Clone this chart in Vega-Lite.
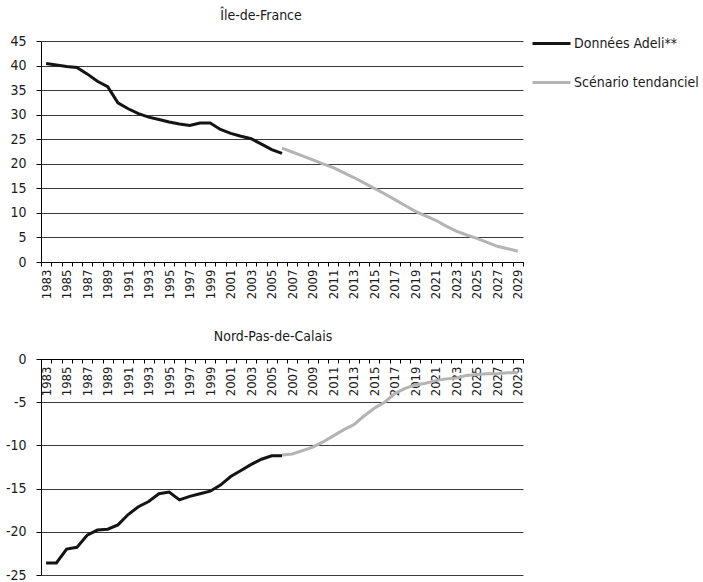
{
  "$schema": "https://vega.github.io/schema/vega-lite/v6.json",
  "background": "white",
  "padding": {"left": 5, "top": 9, "right": 5, "bottom": 5},
  "spacing": 31,
  "config": {
    "font": "'DejaVu Sans Condensed', 'Liberation Sans', sans-serif",
    "view": {"stroke": null},
    "axis": {"labelFont": "'DejaVu Sans Condensed', 'Liberation Sans', sans-serif", "labelColor": "#1a1a1a", "domainColor": "#000", "tickColor": "#000", "gridColor": "#3a3a3a", "gridWidth": 1},
    "title": {"font": "'DejaVu Sans Condensed', 'Liberation Sans', sans-serif", "fontSize": 14, "fontWeight": "normal", "color": "#1a1a1a"}
  },
  "datasets": {
    "d": [
      {"region": "IDF", "series": "Données Adeli**", "year": 1983, "value": 40.4},
      {"region": "IDF", "series": "Données Adeli**", "year": 1984, "value": 40.1},
      {"region": "IDF", "series": "Données Adeli**", "year": 1985, "value": 39.8},
      {"region": "IDF", "series": "Données Adeli**", "year": 1986, "value": 39.6},
      {"region": "IDF", "series": "Données Adeli**", "year": 1987, "value": 38.3},
      {"region": "IDF", "series": "Données Adeli**", "year": 1988, "value": 36.8},
      {"region": "IDF", "series": "Données Adeli**", "year": 1989, "value": 35.7},
      {"region": "IDF", "series": "Données Adeli**", "year": 1990, "value": 32.4},
      {"region": "IDF", "series": "Données Adeli**", "year": 1991, "value": 31.2},
      {"region": "IDF", "series": "Données Adeli**", "year": 1992, "value": 30.2},
      {"region": "IDF", "series": "Données Adeli**", "year": 1993, "value": 29.5},
      {"region": "IDF", "series": "Données Adeli**", "year": 1994, "value": 29.0},
      {"region": "IDF", "series": "Données Adeli**", "year": 1995, "value": 28.5},
      {"region": "IDF", "series": "Données Adeli**", "year": 1996, "value": 28.1},
      {"region": "IDF", "series": "Données Adeli**", "year": 1997, "value": 27.8},
      {"region": "IDF", "series": "Données Adeli**", "year": 1998, "value": 28.3},
      {"region": "IDF", "series": "Données Adeli**", "year": 1999, "value": 28.3},
      {"region": "IDF", "series": "Données Adeli**", "year": 2000, "value": 27.0},
      {"region": "IDF", "series": "Données Adeli**", "year": 2001, "value": 26.2},
      {"region": "IDF", "series": "Données Adeli**", "year": 2002, "value": 25.6},
      {"region": "IDF", "series": "Données Adeli**", "year": 2003, "value": 25.1},
      {"region": "IDF", "series": "Données Adeli**", "year": 2004, "value": 24.0},
      {"region": "IDF", "series": "Données Adeli**", "year": 2005, "value": 22.9},
      {"region": "IDF", "series": "Données Adeli**", "year": 2006, "value": 22.1},
      {"region": "IDF", "series": "Scénario tendanciel", "year": 2006, "value": 23.2},
      {"region": "IDF", "series": "Scénario tendanciel", "year": 2007, "value": 22.4},
      {"region": "IDF", "series": "Scénario tendanciel", "year": 2008, "value": 21.6},
      {"region": "IDF", "series": "Scénario tendanciel", "year": 2009, "value": 20.8},
      {"region": "IDF", "series": "Scénario tendanciel", "year": 2010, "value": 20.0},
      {"region": "IDF", "series": "Scénario tendanciel", "year": 2011, "value": 19.2},
      {"region": "IDF", "series": "Scénario tendanciel", "year": 2012, "value": 18.2},
      {"region": "IDF", "series": "Scénario tendanciel", "year": 2013, "value": 17.2},
      {"region": "IDF", "series": "Scénario tendanciel", "year": 2014, "value": 16.1},
      {"region": "IDF", "series": "Scénario tendanciel", "year": 2015, "value": 15.0},
      {"region": "IDF", "series": "Scénario tendanciel", "year": 2016, "value": 13.9},
      {"region": "IDF", "series": "Scénario tendanciel", "year": 2017, "value": 12.7},
      {"region": "IDF", "series": "Scénario tendanciel", "year": 2018, "value": 11.5},
      {"region": "IDF", "series": "Scénario tendanciel", "year": 2019, "value": 10.3},
      {"region": "IDF", "series": "Scénario tendanciel", "year": 2020, "value": 9.4},
      {"region": "IDF", "series": "Scénario tendanciel", "year": 2021, "value": 8.5},
      {"region": "IDF", "series": "Scénario tendanciel", "year": 2022, "value": 7.3},
      {"region": "IDF", "series": "Scénario tendanciel", "year": 2023, "value": 6.3},
      {"region": "IDF", "series": "Scénario tendanciel", "year": 2024, "value": 5.5},
      {"region": "IDF", "series": "Scénario tendanciel", "year": 2025, "value": 4.8},
      {"region": "IDF", "series": "Scénario tendanciel", "year": 2026, "value": 4.0},
      {"region": "IDF", "series": "Scénario tendanciel", "year": 2027, "value": 3.2},
      {"region": "IDF", "series": "Scénario tendanciel", "year": 2028, "value": 2.7},
      {"region": "IDF", "series": "Scénario tendanciel", "year": 2029, "value": 2.2},
      {"region": "NPC", "series": "Données Adeli**", "year": 1983, "value": -23.6},
      {"region": "NPC", "series": "Données Adeli**", "year": 1984, "value": -23.6},
      {"region": "NPC", "series": "Données Adeli**", "year": 1985, "value": -22.0},
      {"region": "NPC", "series": "Données Adeli**", "year": 1986, "value": -21.8},
      {"region": "NPC", "series": "Données Adeli**", "year": 1987, "value": -20.4},
      {"region": "NPC", "series": "Données Adeli**", "year": 1988, "value": -19.8},
      {"region": "NPC", "series": "Données Adeli**", "year": 1989, "value": -19.7},
      {"region": "NPC", "series": "Données Adeli**", "year": 1990, "value": -19.2},
      {"region": "NPC", "series": "Données Adeli**", "year": 1991, "value": -18.0},
      {"region": "NPC", "series": "Données Adeli**", "year": 1992, "value": -17.1},
      {"region": "NPC", "series": "Données Adeli**", "year": 1993, "value": -16.5},
      {"region": "NPC", "series": "Données Adeli**", "year": 1994, "value": -15.6},
      {"region": "NPC", "series": "Données Adeli**", "year": 1995, "value": -15.4},
      {"region": "NPC", "series": "Données Adeli**", "year": 1996, "value": -16.3},
      {"region": "NPC", "series": "Données Adeli**", "year": 1997, "value": -15.9},
      {"region": "NPC", "series": "Données Adeli**", "year": 1998, "value": -15.6},
      {"region": "NPC", "series": "Données Adeli**", "year": 1999, "value": -15.3},
      {"region": "NPC", "series": "Données Adeli**", "year": 2000, "value": -14.6},
      {"region": "NPC", "series": "Données Adeli**", "year": 2001, "value": -13.6},
      {"region": "NPC", "series": "Données Adeli**", "year": 2002, "value": -12.9},
      {"region": "NPC", "series": "Données Adeli**", "year": 2003, "value": -12.2},
      {"region": "NPC", "series": "Données Adeli**", "year": 2004, "value": -11.6},
      {"region": "NPC", "series": "Données Adeli**", "year": 2005, "value": -11.2},
      {"region": "NPC", "series": "Données Adeli**", "year": 2006, "value": -11.2},
      {"region": "NPC", "series": "Scénario tendanciel", "year": 2006, "value": -11.1},
      {"region": "NPC", "series": "Scénario tendanciel", "year": 2007, "value": -11.0},
      {"region": "NPC", "series": "Scénario tendanciel", "year": 2008, "value": -10.6},
      {"region": "NPC", "series": "Scénario tendanciel", "year": 2009, "value": -10.2},
      {"region": "NPC", "series": "Scénario tendanciel", "year": 2010, "value": -9.6},
      {"region": "NPC", "series": "Scénario tendanciel", "year": 2011, "value": -8.9},
      {"region": "NPC", "series": "Scénario tendanciel", "year": 2012, "value": -8.2},
      {"region": "NPC", "series": "Scénario tendanciel", "year": 2013, "value": -7.6},
      {"region": "NPC", "series": "Scénario tendanciel", "year": 2014, "value": -6.6},
      {"region": "NPC", "series": "Scénario tendanciel", "year": 2015, "value": -5.7},
      {"region": "NPC", "series": "Scénario tendanciel", "year": 2016, "value": -5.0},
      {"region": "NPC", "series": "Scénario tendanciel", "year": 2017, "value": -4.0},
      {"region": "NPC", "series": "Scénario tendanciel", "year": 2018, "value": -3.4},
      {"region": "NPC", "series": "Scénario tendanciel", "year": 2019, "value": -3.0},
      {"region": "NPC", "series": "Scénario tendanciel", "year": 2020, "value": -2.8},
      {"region": "NPC", "series": "Scénario tendanciel", "year": 2021, "value": -2.5},
      {"region": "NPC", "series": "Scénario tendanciel", "year": 2022, "value": -2.3},
      {"region": "NPC", "series": "Scénario tendanciel", "year": 2023, "value": -2.2},
      {"region": "NPC", "series": "Scénario tendanciel", "year": 2024, "value": -1.9},
      {"region": "NPC", "series": "Scénario tendanciel", "year": 2025, "value": -1.8},
      {"region": "NPC", "series": "Scénario tendanciel", "year": 2026, "value": -1.7},
      {"region": "NPC", "series": "Scénario tendanciel", "year": 2027, "value": -1.7},
      {"region": "NPC", "series": "Scénario tendanciel", "year": 2028, "value": -1.6},
      {"region": "NPC", "series": "Scénario tendanciel", "year": 2029, "value": -1.6}
    ]
  },
  "resolve": {"scale": {"color": "independent"}, "legend": {"color": "independent"}},
  "vconcat": [
    {
      "width": 482,
      "height": 221,
      "title": {"text": "Île-de-France", "dx": -21, "offset": 0},
      "data": {"name": "d"},
      "transform": [{"filter": "datum.region === 'IDF'"}],
      "mark": {"type": "line", "strokeWidth": 3},
      "encoding": {
        "x": {
          "field": "year", "type": "ordinal",
          "scale": {"type": "band", "paddingInner": 0, "paddingOuter": 0},
          "axis": {"title": null, "labelAngle": -90, "tickBand": "extent", "grid": false, "tickSize": 4, "labelPadding": 3, "labelFontSize": 13, "labelExpr": "(datum.value - 1983) % 2 === 0 ? datum.value : ''"}
        },
        "y": {
          "field": "value", "type": "quantitative",
          "scale": {"domain": [0, 45], "nice": false},
          "axis": {"title": null, "values": [0, 5, 10, 15, 20, 25, 30, 35, 40, 45], "grid": true, "tickSize": 5, "labelPadding": 10, "labelFontSize": 14, "labelExpr": "datum.value + ''"}
        },
        "color": {
          "field": "series", "type": "nominal",
          "scale": {"domain": ["Données Adeli**", "Scénario tendanciel"], "range": ["#141414", "#b4b4b4"]},
          "legend": {"title": null, "orient": "none", "legendX": 490, "legendY": -18, "symbolType": "stroke", "symbolSize": 1444, "symbolStrokeWidth": 3, "labelFontSize": 14, "labelColor": "#1a1a1a", "labelOffset": 2, "rowPadding": 11, "labelFont": "'DejaVu Sans Condensed', 'Liberation Sans', sans-serif"}
        }
      }
    },
    {
      "width": 482,
      "height": 216,
      "title": {"text": "Nord-Pas-de-Calais", "dx": -9, "offset": 8},
      "data": {"name": "d"},
      "transform": [{"filter": "datum.region === 'NPC'"}],
      "mark": {"type": "line", "strokeWidth": 3},
      "encoding": {
        "x": {
          "field": "year", "type": "ordinal",
          "scale": {"type": "band", "paddingInner": 0, "paddingOuter": 0},
          "axis": {"title": null, "orient": "bottom", "offset": -216, "labelAngle": -90, "tickBand": "extent", "grid": false, "tickSize": 4, "labelPadding": 3, "labelFontSize": 13, "labelExpr": "(datum.value - 1983) % 2 === 0 ? datum.value : ''"}
        },
        "y": {
          "field": "value", "type": "quantitative",
          "scale": {"domain": [-25, 0], "nice": false},
          "axis": {"title": null, "values": [-25, -20, -15, -10, -5, 0], "grid": true, "tickSize": 5, "labelPadding": 10, "labelFontSize": 14, "labelExpr": "datum.value + ''"}
        },
        "color": {
          "field": "series", "type": "nominal",
          "scale": {"domain": ["Données Adeli**", "Scénario tendanciel"], "range": ["#141414", "#b4b4b4"]},
          "legend": null
        }
      }
    }
  ]
}
